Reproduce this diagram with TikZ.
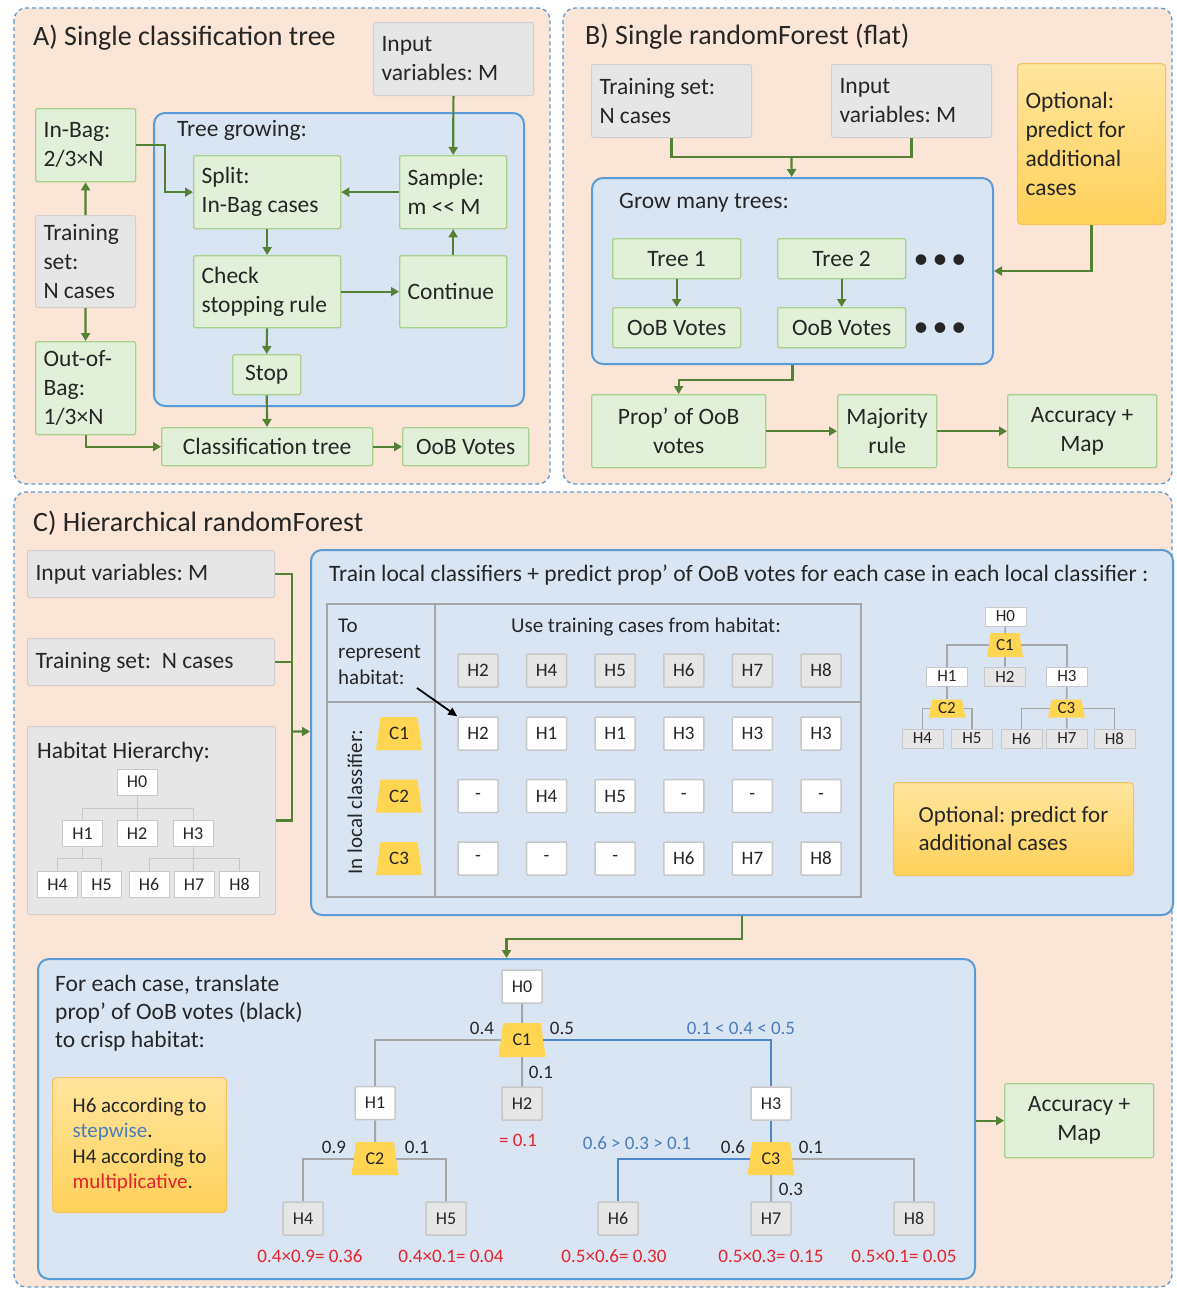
\documentclass[tikz,border=0pt]{standalone}
\usepackage{fontspec}
\setmainfont{Carlito}
\usetikzlibrary{arrows.meta,shapes.geometric}
\definecolor{peach}{HTML}{FBE5D6}
\definecolor{dashblue}{HTML}{5B9BD5}
\definecolor{bluefill}{HTML}{DAE5F3}
\definecolor{blueedge}{HTML}{5B9BD5}
\definecolor{greenfill}{HTML}{E2F0D9}
\definecolor{greenedge}{HTML}{A9D18E}
\definecolor{grayfill}{HTML}{E7E6E6}
\definecolor{grayedge}{HTML}{D0CECE}
\definecolor{arrowgreen}{HTML}{548235}
\definecolor{gold}{HTML}{FFD552}
\definecolor{orangetop}{HTML}{FFE59E}
\definecolor{orangebot}{HTML}{FFD15A}
\definecolor{orangeedge}{HTML}{F7C25C}
\definecolor{treegray}{HTML}{A6A6A6}
\definecolor{lightgray}{HTML}{C8C8C8}
\definecolor{txt}{HTML}{262626}
\definecolor{redtxt}{HTML}{E5232D}
\definecolor{bluetxt}{HTML}{4A7EBB}
\definecolor{blueline}{HTML}{4F88C8}
\newcommand\myfs[2]{\fontsize{#1}{#2}\selectfont}
\frenchspacing
\begin{document}
\begin{tikzpicture}[x=1pt,y=-1pt,
  every node/.style={text=txt, execute at begin node={\spaceskip=0pt\xspaceskip=0pt\relax}},
  panel/.style={draw=dashblue, line width=1.3pt, dash pattern=on 4pt off 3pt, fill=peach, rounded corners=12pt},
  bx/.style={anchor=north west, inner xsep=8pt, inner ysep=2pt, rounded corners=2pt, font=\myfs{23.5}{29}},
  gbox/.style={bx, fill=greenfill, draw=greenedge, line width=1.3pt},
  graybox/.style={bx, fill=grayfill, draw=grayedge, line width=1pt},
  obox/.style={bx, top color=orangetop, bottom color=orangebot, draw=orangeedge, line width=1pt, rounded corners=4pt},
  container/.style={anchor=north west, fill=bluefill, draw=blueedge, line width=2pt, rounded corners=11pt, inner sep=0pt},
  lt/.style={align=left, text width=#1},
  ct/.style={align=center},
  ptitle/.style={anchor=west, inner sep=0pt, font=\myfs{28}{32}},
  ptext/.style={anchor=west, inner sep=0pt, font=\myfs{23.5}{29}},
  garrow/.style={draw=arrowgreen, line width=2.2pt, -{Triangle[length=8pt,width=9pt]}},
  gline/.style={draw=arrowgreen, line width=2.2pt},
  hs/.style={fill=white, draw=lightgray, line width=1pt, minimum width=40, minimum height=26, inner sep=0pt, font=\myfs{18}{20}},
  hline/.style={draw=lightgray, line width=1pt},
  mt/.style={fill=white, draw=lightgray, line width=1pt, minimum width=41, minimum height=19, inner sep=0pt, font=\myfs{17}{18}},
  mtg/.style={mt, fill=grayfill},
  cell/.style={fill=white, draw=lightgray, line width=1.5pt, minimum width=40, minimum height=33, inner sep=0pt, rounded corners=1pt, font=\myfs{19}{22}},
  hcell/.style={cell, fill=grayfill},
  bt/.style={cell, font=\myfs{18}{20}},
  btg/.style={bt, fill=grayfill},
  trap/.style={trapezium, trapezium stretches=true, trapezium left angle=79, trapezium right angle=79, fill=gold, inner sep=0pt, minimum width=46, minimum height=33, font=\myfs{19}{22}},
  num/.style={inner sep=0pt, font=\myfs{19}{22}},
  tline/.style={draw=treegray, line width=2pt},
  bline/.style={draw=blueline, line width=2pt},
]
\useasboundingbox[fill=white] (0,0) rectangle (1176,1291);

% ================= Panel A =================
\draw[panel] (14,8) rectangle (550,484);
\node[ptitle] (tA) at (33,38) {A) Single classification tree};
\node[graybox, lt=144pt, minimum width=160, minimum height=73] (ainput) at (373,22) {Input\\variables: M};
\node[container, minimum width=370, minimum height=293] (agrow) at (153,112) {};
\node[ptext] (agrowt) at (177,130) {Tree growing:};
\node[gbox, lt=84pt, minimum width=100, minimum height=73] (inbag) at (35,108) {In-Bag:\\2/3×N};
\node[graybox, lt=84pt, minimum width=100, minimum height=92] (atrain) at (35,215) {Training\\set:\\N cases};
\node[gbox, lt=84pt, minimum width=100, minimum height=93] (outbag) at (35,341) {Out-of-\\Bag:\\1/3×N};
\node[gbox, lt=131pt, minimum width=147, minimum height=73] (split) at (193,155) {Split:\\In-Bag cases};
\node[gbox, lt=91pt, minimum width=107, minimum height=73] (sample) at (399,155) {Sample:\\m <\kern0pt< M};
\node[gbox, lt=131pt, minimum width=147, minimum height=72] (check) at (193,255) {Check\\stopping rule};
\node[gbox, lt=91pt, minimum width=107, minimum height=72] (cont) at (399,255) {Continue};
\node[gbox, ct, minimum width=68, minimum height=40] (stop) at (232,354) {Stop};
\node[gbox, ct, minimum width=211, minimum height=38] (ctree) at (161,427) {Classification tree};
\node[gbox, ct, minimum width=126, minimum height=38] (aoob) at (402,427) {OoB Votes};

\draw[garrow] (ainput) -- (sample);
\draw[garrow] (inbag.east) -- ++(29,0) |- (split);
\draw[garrow] (atrain) -- (inbag);
\draw[garrow] (atrain) -- (outbag);
\draw[garrow] (sample) -- (split);
\draw[garrow] (split) -- (check);
\draw[garrow] (check) -- (cont);
\draw[garrow] (cont) -- (sample);
\draw[garrow] (check) -- (stop);
\draw[garrow] (stop) -- (ctree);
\draw[garrow] (outbag) |- (ctree);
\draw[garrow] (ctree) -- (aoob);

% ================= Panel B =================
\draw[panel] (563,8) rectangle (1172,484);
\node[ptitle] (tB) at (585,37) {B) Single randomForest (flat)};
\node[graybox, lt=144pt, minimum width=160, minimum height=73] (btrain) at (591,64) {Training set:\\N cases};
\node[graybox, lt=144pt, minimum width=160, minimum height=73] (binput) at (831,64) {Input\\variables: M};
\node[obox, lt=132pt, minimum width=148, minimum height=161] (bopt) at (1017,63) {Optional:\\predict for\\additional\\cases};
\node[container, minimum width=401, minimum height=186] (bgrow) at (591,177) {};
\node[ptext] (bgrowt) at (619,203) {Grow many trees:};
\node[gbox, ct, minimum width=128, minimum height=40] (tree1) at (612,238) {Tree 1};
\node[gbox, ct, minimum width=128, minimum height=40] (tree2) at (777,238) {Tree 2};
\node[gbox, ct, minimum width=128, minimum height=40] (vote1) at (612,307) {OoB Votes};
\node[gbox, ct, minimum width=128, minimum height=40] (vote2) at (777,307) {OoB Votes};
\node[inner sep=0pt, font=\myfs{30}{30}] (dots1) at (940,262) {•\hspace{4pt}•\hspace{4pt}•};
\node[inner sep=0pt, font=\myfs{30}{30}] (dots2) at (940,330) {•\hspace{4pt}•\hspace{4pt}•};
\node[gbox, ct, minimum width=174, minimum height=73] (bprop) at (591,394) {Prop’ of OoB\\votes};
\node[gbox, ct, minimum width=99, minimum height=73] (bmaj) at (837,394) {Majority\\rule};
\node[gbox, ct, minimum width=149, minimum height=73] (bacc) at (1007,394) {Accuracy +\\Map};
\coordinate (bj) at (791.5,157);
\draw[gline] (btrain) |- (bj) -| (binput);
\draw[garrow] (bj) -- (bgrow);
\draw[garrow] (bopt) |- (bgrow);
\draw[garrow] (tree1) -- (vote1);
\draw[garrow] (tree2) -- (vote2);
\draw[garrow] (bgrow.south) -- ++(0,15) -| (bprop);
\draw[garrow] (bprop) -- (bmaj);
\draw[garrow] (bmaj) -- (bacc);

% ================= Panel C =================
\draw[panel] (14,492) rectangle (1172,1287);
\node[ptitle] (tC) at (33,523) {C) Hierarchical randomForest};
\node[graybox, lt=231pt, minimum width=247, minimum height=47] (cinput) at (27,550) {Input variables: M};
\node[graybox, lt=231pt, minimum width=247, minimum height=47] (ctrain) at (27,638) {Training set:~ N cases};
\node[graybox, minimum width=248, minimum height=188, inner sep=0pt] (chab) at (27,726) {};
\node[ptext] (chabt) at (37,752) {Habitat Hierarchy:};
% hierarchy
\node[hs] (hh0) at (137,782) {H0};
\node[hs] (hh1) at (82.5,833.5) {H1};
\node[hs] (hh2) at (137,833.5) {H2};
\node[hs] (hh3) at (193,833.5) {H3};
\node[hs] (hh4) at (57.5,884.5) {H4};
\node[hs] (hh5) at (101.5,884.5) {H5};
\node[hs] (hh6) at (149,884.5) {H6};
\node[hs] (hh7) at (194,884.5) {H7};
\node[hs] (hh8) at (239.5,884.5) {H8};
\coordinate (hj0) at (137,808);
\coordinate (hj1) at (82.5,858);
\coordinate (hj3) at (193,858);
\draw[hline] (hh0) -- (hj0);
\draw[hline] (hh1) |- (hj0) -| (hh3);
\draw[hline] (hj0) -- (hh2);
\draw[hline] (hh1) -- (hj1);
\draw[hline] (hh4) |- (hj1) -| (hh5);
\draw[hline] (hh3) -- (hj3);
\draw[hline] (hh6) |- (hj3) -| (hh8);
\draw[hline] (hj3) -- (hh7);

% big container
\node[container, minimum width=862, minimum height=365] (cbig) at (310,549) {};
\node[ptext] (cbigt) at (329,575) {Train local classifiers + predict prop’ of OoB votes for each case in each local classifier :};
\coordinate (cj) at (292,731.5);
\draw[gline] (cinput) -| (cj);
\draw[gline] (chab) -| (cj);
\draw[gline] (ctrain.east) -- (ctrain.east -| cj);
\draw[garrow] (cj) -- (cbig);

% table
\node[anchor=north west, draw=treegray, line width=1.5pt, minimum width=534, minimum height=293, inner sep=0pt] (tbl) at (326,603) {};
\draw[draw=treegray, line width=1.5pt] (435,603) -- (435,896);
\draw[draw=treegray, line width=1.5pt] (326,702) -- (860,702);
\node[anchor=north west, align=left, inner sep=0pt, font=\myfs{21}{26}] (torep) at (338,619) {To\\represent\\habitat:};
\node[inner sep=0pt, font=\myfs{21}{26}] (usetr) at (646,627) {Use training cases from habitat:};
\node[inner sep=0pt, rotate=90, font=\myfs{21}{26}] (inlocal) at (355,802) {In local classifier:};
\node[trap] (tc1) at (399,733.5) {C1};
\node[trap] (tc2) at (399,796) {C2};
\node[trap] (tc3) at (399,858.5) {C3};
% header row
\node[hcell] (h02) at (478,670.5) {H2};
\node[hcell] (h04) at (546.6,670.5) {H4};
\node[hcell] (h05) at (615.2,670.5) {H5};
\node[hcell] (h06) at (683.8,670.5) {H6};
\node[hcell] (h07) at (752.4,670.5) {H7};
\node[hcell] (h08) at (821,670.5) {H8};
% row C1
\node[cell] (c11) at (478,733.5) {H2};
\node[cell] (c12) at (546.6,733.5) {H1};
\node[cell] (c13) at (615.2,733.5) {H1};
\node[cell] (c14) at (683.8,733.5) {H3};
\node[cell] (c15) at (752.4,733.5) {H3};
\node[cell] (c16) at (821,733.5) {H3};
% row C2
\node[cell] (c21) at (478,796) {-};
\node[cell] (c22) at (546.6,796) {H4};
\node[cell] (c23) at (615.2,796) {H5};
\node[cell] (c24) at (683.8,796) {-};
\node[cell] (c25) at (752.4,796) {-};
\node[cell] (c26) at (821,796) {-};
% row C3
\node[cell] (c31) at (478,858.5) {-};
\node[cell] (c32) at (546.6,858.5) {-};
\node[cell] (c33) at (615.2,858.5) {-};
\node[cell] (c34) at (683.8,858.5) {H6};
\node[cell] (c35) at (752.4,858.5) {H7};
\node[cell] (c36) at (821,858.5) {H8};
\coordinate (arrS) at (417,688);
\draw[line width=1.8pt, -{Triangle[length=9pt,width=8pt]}] (arrS) -- (c11.north west);

% mini tree
\node[mt] (m0) at (1005.5,616.5) {H0};
\node[trap, minimum width=36, minimum height=24, font=\myfs{17}{18}] (mc1) at (1005,645) {C1};
\node[mt] (m1) at (947,676.5) {H1};
\node[mtg] (m2) at (1005,676.5) {H2};
\node[mt] (m3) at (1067,676.5) {H3};
\node[trap, minimum width=37, minimum height=18, font=\myfs{17}{18}] (mc2) at (947,708.5) {C2};
\node[trap, minimum width=37, minimum height=18, font=\myfs{17}{18}] (mc3) at (1066.5,708.5) {C3};
\node[mtg] (m4) at (922.5,738.5) {H4};
\node[mtg] (m5) at (972,738.5) {H5};
\node[mtg] (m6) at (1021.5,738.5) {H6};
\node[mtg] (m7) at (1067,738.5) {H7};
\node[mtg] (m8) at (1114.5,738.5) {H8};
\begin{scope}[line width=1.6pt]
\draw[draw=treegray] (m0) -- (mc1);
\draw[draw=treegray] (mc1) -| (m1);
\draw[draw=treegray] (mc1) -| (m3);
\draw[draw=treegray] (mc1) -- (m2);
\draw[draw=treegray] (m1) -- (mc2);
\draw[draw=treegray] (mc2) -| (m4);
\draw[draw=treegray] (mc2) -| (m5);
\draw[draw=treegray] (m3) -- (mc3);
\draw[draw=treegray] (mc3) -| (m6);
\draw[draw=treegray] (mc3) -- (m7);
\draw[draw=treegray] (mc3) -| (m8);
\end{scope}
\node[obox, align=left, minimum width=240, minimum height=93, font=\myfs{23}{28}] (copt) at (893,782) {Optional: predict for\\additional cases};

% connector to bottom box
\node[container, minimum width=937, minimum height=320] (cbot) at (37,958) {};
\draw[garrow] (cbig.south) -- ++(0,23) -| (cbot);

\node[anchor=north west, align=left, inner sep=0pt, font=\myfs{23.5}{28}] (cbott) at (55,975) {For each case, translate\\prop’ of OoB votes (black)\\to crisp habitat:};
\node[obox, align=left, minimum width=174, minimum height=135, font=\myfs{21}{25.5}] (cnote) at (52,1077) {H6 according to\\{\color{bluetxt}stepwise}.\\H4 according to\\{\color{redtxt}multiplicative}.};

% bottom tree
\node[bt] (b0) at (522,986.5) {H0};
\node[trap, minimum width=47, minimum height=34, font=\myfs{18}{20}] (bc1) at (522,1040) {C1};
\node[bt] (b1) at (375,1103) {H1};
\node[btg] (b2) at (522,1103.5) {H2};
\node[bt] (b3) at (771,1103.5) {H3};
\node[trap, minimum width=47, minimum height=33, font=\myfs{18}{20}] (bc2) at (375,1158.5) {C2};
\node[trap, minimum width=47, minimum height=33, font=\myfs{18}{20}] (bc3) at (771,1158.5) {C3};
\node[btg] (b4) at (303,1218.5) {H4};
\node[btg] (b5) at (446,1218.5) {H5};
\node[btg] (b6) at (618,1218.5) {H6};
\node[btg] (b7) at (771,1218.5) {H7};
\node[btg] (b8) at (914,1218.5) {H8};
\draw[tline] (b0) -- (bc1);
\draw[tline] (bc1) -| (b1);
\draw[tline] (bc1) -- (b2);
\draw[bline] (bc1) -| (b3);
\draw[tline] (b1) -- (bc2);
\draw[tline] (bc2) -| (b4);
\draw[tline] (bc2) -| (b5);
\draw[bline] (b3) -- (bc3);
\draw[bline] (bc3) -| (b6);
\draw[tline] (bc3) -- (b7);
\draw[tline] (bc3) -| (b8);

\node[num] (l04) at (482,1028) {0.4};
\node[num] (l05) at (562,1028) {0.5};
\node[num] (l01a) at (541,1072) {0.1};
\node[num, text=bluetxt] (lcmp1) at (741,1028) {0.1 < 0.4 < 0.5};
\node[num, text=redtxt] (lh2) at (518,1140) {= 0.1};
\node[num] (l09) at (334,1147) {0.9};
\node[num] (l01b) at (417,1147) {0.1};
\node[num] (l06) at (733,1147) {0.6};
\node[num] (l01c) at (811,1147) {0.1};
\node[num] (l03) at (791,1189) {0.3};
\node[num, text=bluetxt] (lcmp2) at (637,1143) {0.6 > 0.3 > 0.1};
\node[num, text=redtxt] (r4) at (310,1256) {0.4×0.9= 0.36};
\node[num, text=redtxt] (r5) at (451,1256) {0.4×0.1= 0.04};
\node[num, text=redtxt] (r6) at (614,1256) {0.5×0.6= 0.30};
\node[num, text=redtxt] (r7) at (771,1256) {0.5×0.3= 0.15};
\node[num, text=redtxt] (r8) at (904,1256) {0.5×0.1= 0.05};

\node[gbox, ct, minimum width=149, minimum height=74] (cacc) at (1004,1083) {Accuracy +\\Map};
\draw[garrow] (cbot.east |- cacc) -- (cacc);
\end{tikzpicture}
\end{document}
